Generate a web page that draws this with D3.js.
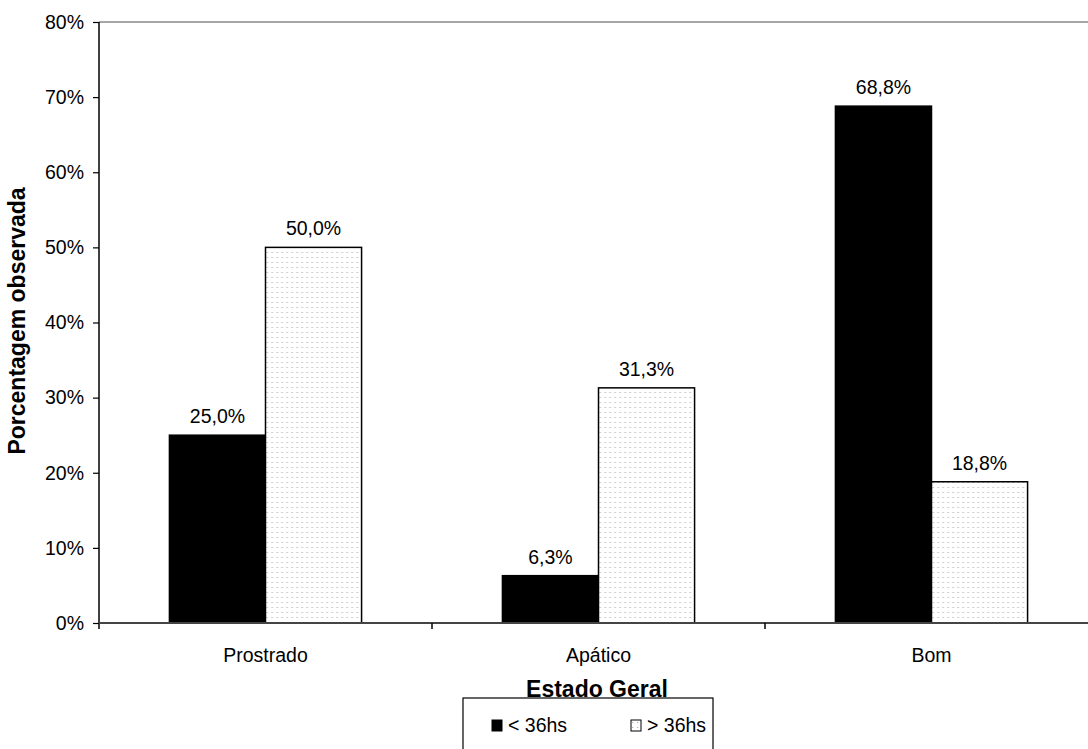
<!DOCTYPE html>
<html>
<head>
<meta charset="utf-8">
<script src="https://cdn.jsdelivr.net/npm/d3@7"></script>
<style>
  html, body { margin: 0; padding: 0; background: #fff; }
  svg { display: block; font-family: "Liberation Sans", Arial, sans-serif; }
</style>
</head>
<body>
<svg id="chart" width="1088" height="749"></svg>
<script>
// Estado geral dos animais por tempo de evolução
const categories = ["Prostrado", "Apático", "Bom"];
const seriesNames = ["< 36hs", "> 36hs"];
const under36 = [25.0, 6.3, 68.8];
const over36 = [50.0, 31.3, 18.8];
const yTicks = [0, 10, 20, 30, 40, 50, 60, 70, 80];

const labelSize = 19.5;
const titleSize = 23;

const svg = d3.select("#chart");
const plot = { left: 99, right: 1098, top: 22, bottom: 623 };

const defs = svg.append("defs");
const pat = defs.append("pattern")
  .attr("id", "dots")
  .attr("patternUnits", "userSpaceOnUse")
  .attr("width", 5).attr("height", 5);
pat.append("rect").attr("width", 5).attr("height", 5).attr("fill", "#fff");
pat.append("rect").attr("x", 2).attr("y", 2).attr("width", 1).attr("height", 1).attr("fill", "#b8b8b8");
pat.append("rect").attr("x", 3).attr("y", 2).attr("width", 1).attr("height", 1).attr("fill", "#e2e2e2");

const x = d3.scaleBand()
  .domain(categories)
  .range([plot.left, plot.right])
  .paddingInner(0.423)
  .paddingOuter(0.2115);

const xSub = d3.scaleBand()
  .domain(seriesNames)
  .range([0, x.bandwidth()]);

const y = d3.scaleLinear()
  .domain([0, 80])
  .range([plot.bottom, plot.top]);

// top border of the plot area
svg.append("line")
  .attr("x1", plot.left).attr("x2", 1088)
  .attr("y1", plot.top).attr("y2", plot.top)
  .attr("stroke", "#888").attr("stroke-width", 1.5);

// bars
const rows = categories.map((c, i) => ({ cat: c, vals: [under36[i], over36[i]] }));
const groups = svg.append("g").selectAll("g")
  .data(rows).join("g")
  .attr("transform", d => `translate(${x(d.cat)},0)`);

groups.selectAll("rect")
  .data(d => d.vals.map((v, j) => ({ s: seriesNames[j], v, j })))
  .join("rect")
  .attr("x", d => xSub(d.s))
  .attr("width", xSub.bandwidth())
  .attr("y", d => y(d.v))
  .attr("height", d => y(0) - y(d.v))
  .attr("fill", d => d.j === 0 ? "#000" : "url(#dots)")
  .attr("stroke", "#000")
  .attr("stroke-width", 1.5);

groups.selectAll("text")
  .data(d => d.vals.map((v, j) => ({ s: seriesNames[j], v })))
  .join("text")
  .attr("x", d => xSub(d.s) + xSub.bandwidth() / 2)
  .attr("y", d => y(d.v) - 12)
  .attr("text-anchor", "middle")
  .attr("font-size", labelSize)
  .attr("fill", "#000")
  .text(d => d3.format(".1f")(d.v).replace(".", ",") + "%");

// y axis
const yAxis = d3.axisLeft(y)
  .tickValues(yTicks)
  .tickSize(6)
  .tickPadding(9)
  .tickFormat(d => d + "%");
const gy = svg.append("g")
  .attr("transform", `translate(${plot.left},0)`)
  .call(yAxis);
gy.select(".domain").attr("stroke", "#000").attr("stroke-width", 1.5)
  .attr("d", `M0,${plot.top}V${plot.bottom + 6}`);
gy.selectAll(".tick line").attr("stroke", "#000").attr("stroke-width", 1.2);
gy.selectAll(".tick text").attr("font-size", labelSize).attr("fill", "#000")
  .attr("font-family", "Liberation Sans, Arial, sans-serif");

// x axis with ticks at category boundaries
const gx = svg.append("g");
gx.append("line")
  .attr("x1", plot.left).attr("x2", 1088)
  .attr("y1", plot.bottom).attr("y2", plot.bottom)
  .attr("stroke", "#444").attr("stroke-width", 2);
const boundaries = categories.slice(1).map(c => x(c) - x.step() * x.paddingInner() / 2);
gx.selectAll(".bt").data(boundaries).join("line")
  .attr("x1", d => d).attr("x2", d => d)
  .attr("y1", plot.bottom).attr("y2", plot.bottom + 6)
  .attr("stroke", "#000").attr("stroke-width", 1.5);
gx.selectAll(".cl").data(categories).join("text")
  .attr("x", d => x(d) + x.bandwidth() / 2)
  .attr("y", 662)
  .attr("text-anchor", "middle")
  .attr("font-size", labelSize)
  .attr("fill", "#000")
  .text(d => d);

// axis titles
svg.append("text")
  .attr("x", 597).attr("y", 697)
  .attr("text-anchor", "middle")
  .attr("font-size", titleSize).attr("font-weight", "bold")
  .text("Estado Geral");

svg.append("text")
  .attr("transform", "translate(25,321) rotate(-90)")
  .attr("text-anchor", "middle")
  .attr("font-size", titleSize).attr("font-weight", "bold")
  .text("Porcentagem observada");

// legend
const lg = svg.append("g");
lg.append("rect")
  .attr("x", 463).attr("y", 698)
  .attr("width", 250).attr("height", 60)
  .attr("fill", "#fff").attr("stroke", "#000").attr("stroke-width", 1.2);
const legendItems = [
  { name: seriesNames[0], sx: 492, fill: "#000" },
  { name: seriesNames[1], sx: 631, fill: "url(#dots)" }
];
const li = lg.selectAll("g").data(legendItems).join("g");
li.append("rect")
  .attr("x", d => d.sx).attr("y", 720)
  .attr("width", 10).attr("height", 11)
  .attr("fill", d => d.fill)
  .attr("stroke", "#000").attr("stroke-width", 1);
li.append("text")
  .attr("x", d => d.sx + 16).attr("y", 732)
  .attr("font-size", labelSize)
  .attr("fill", "#000")
  .text(d => d.name);
</script>
</body>
</html>
